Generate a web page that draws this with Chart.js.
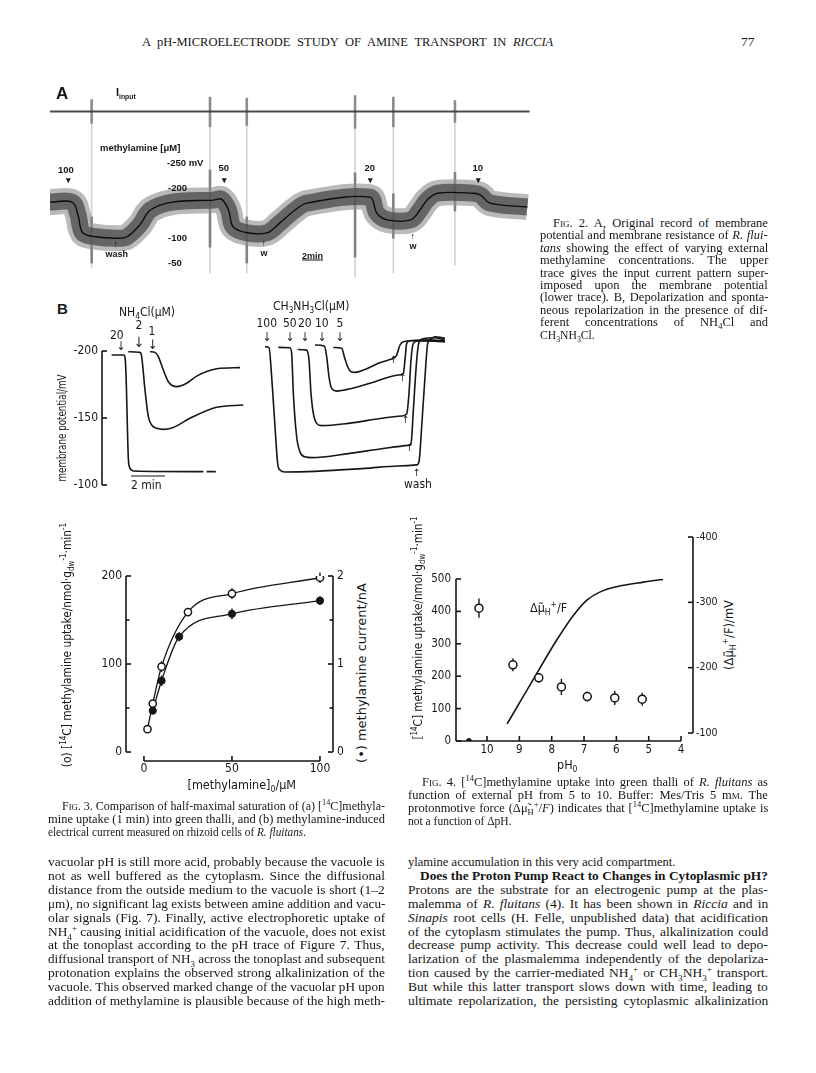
<!DOCTYPE html>
<html>
<head>
<meta charset="utf-8">
<title>A pH-microelectrode study of amine transport in Riccia</title>
<script src="https://cdn.jsdelivr.net/npm/chart.js@4.4.1/dist/chart.umd.min.js"></script>
<style>
    html, body { margin: 0; padding: 0; background: #fff; }
    #page { position: relative; width: 816px; height: 1073px; overflow: hidden; background: #fff; color: #161616;
            font-family: "Liberation Serif", "Times New Roman", serif; }
    .t { position: absolute; white-space: nowrap; line-height: 1; transform-origin: 0 50%; }
    .sans { font-family: "DejaVu Sans Condensed", "Liberation Sans Narrow", "DejaVu Sans", sans-serif; }
    .lab { font-family: "Liberation Sans", Arial, sans-serif; font-weight: bold; }
    .bold { font-weight: bold; }
    .sc { font-variant: small-caps; }
    sub, sup { font-size: 0.68em; line-height: 0; }
    canvas.plot { position: absolute; }
</style>
</head>
<body>
<div id="page">
    <canvas id="figA" class="plot"></canvas>
    <canvas id="figB" class="plot"></canvas>
    <canvas id="fig3" class="plot"></canvas>
    <canvas id="fig4" class="plot"></canvas>
</div>
<script>
// ==========================================
// Data
// ==========================================

// Fig. 2A - original record, time in min, potential in mV
var recTime = [0, 1.9, 2.4, 2.8, 3.9, 5.7, 6.6, 7.7, 8.6, 10.5, 14.0, 14.7, 15.3, 15.7, 16.9, 18.6, 19.7, 21.0, 22.0, 27.4, 28.0, 28.9, 30.9, 31.7, 32.3, 33.2, 36.3, 36.9, 37.7, 40.9];
var recPotential = [-173, -173, -147, -111, -103, -100, -103, -127, -157, -173, -177, -179, -157, -123, -111, -111, -131, -157, -171, -183, -151, -137, -137, -157, -177, -191, -191, -187, -171, -163];
var inputLevel = -356;
var pulseTime = [3.57, 13.71, 16.86, 26.14, 29.42, 34.7];
var pulseTop = [-380, -385, -383, -388, -385, -378];
var pulseLow = [-332, -325, -328, -322, -325, -334];
var pulseEnd = [-40, -30, -30, -22, -30, -45];
var dipTop = [-143, -238, -143, -232, -190, -233];
var dipBottom = [-50, -82, -50, -62, -100, -155];

// Fig. 2B - depolarization traces (min, mV)
var nh4Conc = [20, 2, 1];
var nh4Time = [
    [0.3, 1.05, 1.12, 1.18, 1.25, 1.3, 1.38, 1.6, 5.8, 5.85, 6.0, 6.55],
    [1.3, 2.0, 2.1, 2.3, 2.5, 2.7, 3.0, 3.4, 4.0, 5.0, 6.6, 8.2],
    [2.6, 2.9, 3.1, 3.4, 3.7, 4.2, 4.8, 5.4, 6.6, 8.0]
];
var nh4Potential = [
    [-197, -197, -193, -175, -140, -120, -113, -110.5, -110, null, -110, -110],
    [-199.5, -199, -195.8, -170.9, -151, -144.8, -142.3, -141.5, -143, -149.8, -158, -159.7],
    [-199.5, -199, -195.8, -185.8, -177.1, -173.4, -175.9, -181.3, -186.8, -187.6]
];
var ch3Conc = [100, 50, 20, 10, 5];
var ch3Time = [
    [9.5, 9.74, 9.9, 10.1, 10.26, 10.4, 10.7, 12.5, 15.5, 17.5, 18.6, 18.74, 18.9, 19.1, 19.26, 19.4, 19.7, 20.3],
    [10.3, 11.0, 11.1, 11.2, 11.4, 11.6, 11.9, 12.3, 14.5, 16.5, 18.1, 18.26, 18.4, 18.6, 18.74, 19.0, 19.7, 20.3],
    [11.46, 12.0, 12.14, 12.26, 12.4, 12.6, 12.9, 14.5, 16.5, 17.7, 18.0, 18.14, 18.26, 18.4, 18.7, 19.5, 20.3],
    [12.5, 13.06, 13.2, 13.34, 13.5, 13.8, 14.7, 16.1, 17.5, 17.8, 17.9, 18.0, 18.2, 18.9, 20.3],
    [13.6, 14.1, 14.26, 14.46, 14.66, 14.9, 15.5, 16.3, 16.9, 17.2, 17.4, 17.6, 17.8, 18.3, 20.3]
];
var ch3Potential = [
    [-203.2, -202.7, -180.8, -143.5, -116.2, -111.2, -109.7, -110.2, -112.4, -114.2, -115, -117.4, -143.5, -180.8, -205.7, -208.7, -210.7, -209.5],
    [-202.7, -202.5, -198.3, -168.4, -136, -124.6, -121, -120.4, -123.4, -127.1, -129.6, -130.8, -155.7, -193, -206.7, -209.2, -209.9, -207.9],
    [-201.2, -200.7, -193.3, -168.4, -153.5, -146, -144.3, -146, -149.8, -151.5, -153, -168.4, -193.3, -205.7, -207.7, -208.2, -206.9],
    [-204.5, -203.7, -195.8, -180.8, -172.1, -170.1, -172.1, -177.1, -182.1, -183.3, -193.3, -205.7, -207.7, -208.2, -207.7],
    [-202.7, -202, -195.8, -188.3, -184.6, -184.1, -186.3, -190.8, -193.3, -194.5, -197, -204.5, -207, -207.7, -207]
];
var potTicks = [-200, -150, -100];

// Fig. 3 - saturation
var uptakeConc = [2, 5, 10, 25, 50, 100];
var uptake = [26, 55, 97, 159, 180, 198];
var uptakeErr = [4, 3, 6, 4, 6, 6];
var currentConc = [5, 10, 20, 50, 100];
var current = [0.47, 0.81, 1.31, 1.57, 1.72];
var currentErr = [0.04, 0.06, 0.05, 0.06, 0.05];
var concTicks = [0, 50, 100];
var uptakeTicks = [0, 100, 200];
var uptakeMinor = [50, 150];
var currentTicks = [0, 1, 2];
var currentMinor = [0.5, 1.5];

// Fig. 4 - pH dependence
var phValues = [10.25, 9.2, 8.4, 7.7, 6.9, 6.05, 5.2];
var phUptake = [410, 235, 195, 167, 137, 133, 129];
var phUptakeErr = [30, 20, 15, 25, 15, 22, 20];
var phZero = [10.56];
var phZeroUptake = [0];
var forcePh = [9.38, 8.88, 8.37, 7.85, 7.33, 6.92, 6.5, 5.99, 5.16, 4.56];
var forceMv = [-114, -156, -199, -242, -280, -303, -316, -324, -331, -335];
var phTicks = [10, 9, 8, 7, 6, 5, 4];
var phUptakeTicks = [0, 100, 200, 300, 400, 500];
var forceTicks = [-400, -300, -200, -100];

var INK = '#161616';
var SANS = '"DejaVu Sans Condensed", "Liberation Sans Narrow", "DejaVu Sans", sans-serif';

Chart.defaults.animation = false;
Chart.defaults.devicePixelRatio = 1;

// ==========================================
// Helpers
// ==========================================

var page = document.getElementById('page');

function place(id, left, top, w, h) {
    var c = document.getElementById(id);
    c.width = w; c.height = h;
    c.style.left = left + 'px'; c.style.top = top + 'px';
    c.style.width = w + 'px'; c.style.height = h + 'px';
    return c;
}

function xy(xs, ys) {
    return xs.map(function(x, i) { return { x: x, y: ys[i] }; });
}

/**
 * Put a text line on the page; y is the vertical centre.
 * opt: size, cls, align, rot, just (justify to width), len (scale to length), sx
 */
function put(html, x, y, opt) {
    opt = opt || {};
    var el = document.createElement('div');
    el.className = 't ' + (opt.cls || '');
    el.innerHTML = html;
    el.style.left = x + 'px';
    el.style.top = y + 'px';
    el.style.fontSize = (opt.size || 12) + 'px';
    page.appendChild(el);
    var w = el.offsetWidth;
    var s = opt.sx || 1;
    if (opt.just) {
        if (w > opt.just) {
            s = opt.just / w;
        } else {
            var gaps = (el.textContent.match(/ /g) || []).length;
            if (gaps) el.style.wordSpacing = ((opt.just - w) / gaps) + 'px';
            s = 1;
        }
        w = opt.just;
    } else if (opt.len) {
        s = opt.len / w;
    }
    if (opt.rot) {
        el.style.transformOrigin = '50% 50%';
        el.style.transform = 'translate(-50%,-50%) rotate(' + opt.rot + 'deg) scaleX(' + s + ')';
        return el;
    }
    var vis = opt.just ? w : w * s;
    var dx = opt.align === 'center' ? -vis / 2 : opt.align === 'right' ? -vis : 0;
    el.style.transform = 'translate(' + dx + 'px,-50%) scaleX(' + s + ')';
    return el;
}

function stroke(ctx, x0, y0, x1, y1) {
    ctx.beginPath(); ctx.moveTo(x0, y0); ctx.lineTo(x1, y1); ctx.stroke();
}

// Hand-drawn style axes: line only over the labelled range, ticks pointing inward
var paperAxes = {
    id: 'paperAxes',
    afterDatasetsDraw: function(chart, args, opts) {
        var ctx = chart.ctx, area = chart.chartArea;
        ctx.save();
        ctx.strokeStyle = INK; ctx.fillStyle = INK;
        ctx.lineWidth = 1.6;
        (opts.axes || []).forEach(function(ax) {
            var sc = chart.scales[ax.scale];
            var len = ax.tickLen || 5, gap = ax.gap || 4;
            ctx.font = (ax.size || 12) + 'px ' + SANS;
            if (ax.side === 'bottom') {
                var y = area.bottom;
                stroke(ctx, sc.getPixelForValue(ax.from), y, sc.getPixelForValue(ax.to), y);
                ax.ticks.forEach(function(v) { var px = sc.getPixelForValue(v); stroke(ctx, px, y, px, y - len); });
                (ax.minor || []).forEach(function(v) { var px = sc.getPixelForValue(v); stroke(ctx, px, y, px, y - len * 0.6); });
                ctx.textAlign = 'center'; ctx.textBaseline = 'top';
                ax.ticks.forEach(function(v) { ctx.fillText(String(v), sc.getPixelForValue(v), y + gap); });
            } else {
                var x = ax.side === 'left' ? area.left : area.right;
                var dir = ax.side === 'left' ? 1 : -1;
                stroke(ctx, x, sc.getPixelForValue(ax.from), x, sc.getPixelForValue(ax.to));
                ax.ticks.forEach(function(v) { var py = sc.getPixelForValue(v); stroke(ctx, x, py, x + dir * len, py); });
                (ax.minor || []).forEach(function(v) { var py = sc.getPixelForValue(v); stroke(ctx, x, py, x + dir * len * 0.7, py); });
                ctx.textAlign = ax.side === 'left' ? 'right' : 'left'; ctx.textBaseline = 'middle';
                ax.ticks.forEach(function(v) { ctx.fillText(String(v), x - dir * gap, sc.getPixelForValue(v)); });
            }
        });
        ctx.restore();
    }
};

// Vertical error bars, drawn under the markers
var errorBars = {
    id: 'errorBars',
    beforeDatasetsDraw: function(chart, args, opts) {
        var ctx = chart.ctx;
        ctx.save();
        ctx.strokeStyle = INK; ctx.lineWidth = 1.4;
        (opts.sets || []).forEach(function(s) {
            var ds = chart.data.datasets[s.dataset];
            var xs = chart.scales.x, ys = chart.scales[ds.yAxisID || 'y'];
            ds.data.forEach(function(p, i) {
                var e = s.err[i];
                if (!e) return;
                var px = xs.getPixelForValue(p.x);
                stroke(ctx, px, ys.getPixelForValue(p.y - e), px, ys.getPixelForValue(p.y + e));
            });
        });
        ctx.restore();
    }
};

function baseOptions(xScale, yScales, pad, plugins) {
    var scales = { x: Object.assign({ type: 'linear', display: false, offset: false }, xScale) };
    Object.keys(yScales).forEach(function(k) {
        scales[k] = Object.assign({ type: 'linear', display: false }, yScales[k]);
    });
    return {
        responsive: false,
        animation: false,
        devicePixelRatio: 1,
        layout: { padding: pad },
        scales: scales,
        plugins: Object.assign({ legend: { display: false }, tooltip: { enabled: false } }, plugins || {})
    };
}

// ==========================================
// Fig. 2A  original record
// ==========================================

var canvasA = place('figA', 50, 89, 480, 189);
new Chart(canvasA, {
    type: 'line',
    data: {
        datasets: [
            { data: xy(recTime, recPotential), borderColor: '#0c0c0c', borderWidth: 1.4, pointRadius: 0, tension: 0.35, order: 0 },
            { data: xy(recTime, recPotential), borderColor: 'rgba(78,78,78,0.78)', borderWidth: 17, pointRadius: 0, tension: 0.35, order: 1 },
            { data: xy(recTime, recPotential), borderColor: 'rgba(140,140,140,0.6)', borderWidth: 26, pointRadius: 0, tension: 0.35, order: 2 },
            { type: 'bar', data: pulseTime.map(function(t, i) { return { x: t, y: [dipTop[i], dipBottom[i]] }; }),
              backgroundColor: 'rgba(40,40,40,0.5)', barThickness: 2, grouped: false, order: 3 },
            { type: 'bar', data: pulseTime.map(function(t, i) { return { x: t, y: [pulseTop[i], pulseLow[i]] }; }),
              backgroundColor: 'rgba(60,60,60,0.5)', barThickness: 2, grouped: false, order: 4 },
            { data: xy([0, 41.1], [inputLevel, inputLevel]), borderColor: '#4a4a4a', borderWidth: 1.8, pointRadius: 0, order: 5 },
            { type: 'bar', data: pulseTime.map(function(t, i) { return { x: t, y: [pulseTop[i], pulseEnd[i]] }; }),
              backgroundColor: 'rgba(110,110,110,0.3)', barThickness: 1, grouped: false, order: 6 }
        ]
    },
    options: baseOptions({ min: 0, max: 41.13 }, { y: { min: -401.5, max: -19.7, reverse: true } }, 0)
});

put('A', 56, 93, { cls: 'lab', size: 17 });
put('I<sub style="font-size:0.62em">input</sub>', 116, 92, { cls: 'lab', size: 11 });
put('methylamine [μM]', 100, 148, { cls: 'lab', size: 8.5, len: 80 });
put('-250 mV', 167, 163, { cls: 'lab', size: 9.5 });
put('-200', 168, 188, { cls: 'lab', size: 9.5 });
put('-100', 168, 238, { cls: 'lab', size: 9.5 });
put('-50', 168, 263, { cls: 'lab', size: 9.5 });
put('100', 66, 170, { cls: 'lab', size: 9.5, align: 'center' });
put('50', 224, 168, { cls: 'lab', size: 9.5, align: 'center' });
put('20', 370, 168, { cls: 'lab', size: 9.5, align: 'center' });
put('10', 478, 168, { cls: 'lab', size: 9.5, align: 'center' });
[68, 224, 370, 478].forEach(function(x) { put('&#9662;', x, 180, { cls: 'lab', size: 9, align: 'center' }); });
put('&#8593;', 116, 244, { cls: 'lab', size: 9, align: 'center' });
put('wash', 117, 254, { cls: 'lab', size: 9, align: 'center' });
put('&#8593;', 264, 243, { cls: 'lab', size: 9, align: 'center' });
put('w', 264, 253, { cls: 'lab', size: 9, align: 'center' });
put('&#8593;', 413, 236, { cls: 'lab', size: 9, align: 'center' });
put('w', 413, 246, { cls: 'lab', size: 9, align: 'center' });
put('<u>2min</u>', 302, 256, { cls: 'lab', size: 9 });

// ==========================================
// Fig. 2B  depolarization traces
// ==========================================

var traceSets = [];
nh4Conc.forEach(function(c, i) {
    traceSets.push({ data: xy(nh4Time[i], nh4Potential[i]), borderColor: INK, borderWidth: 1.6, pointRadius: 0,
                     cubicInterpolationMode: 'monotone', spanGaps: false });
});
ch3Conc.forEach(function(c, i) {
    traceSets.push({ data: xy(ch3Time[i], ch3Potential[i]), borderColor: INK, borderWidth: 1.6, pointRadius: 0,
                     cubicInterpolationMode: 'monotone' });
});

var canvasB = place('figB', 50, 320, 400, 170);
new Chart(canvasB, {
    type: 'line',
    data: { datasets: traceSets },
    options: baseOptions({ min: -0.28, max: 20.3 }, { y: { min: -215.7, max: -100, reverse: true } },
        { left: 52, right: 5, top: 10, bottom: 5 },
        { paperAxes: { axes: [{ scale: 'y', side: 'left', from: -200, to: -100, ticks: potTicks, gap: 4, size: 12 }] } }),
    plugins: [paperAxes]
});

put('B', 57, 308, { cls: 'lab', size: 15 });
put('NH<sub>4</sub>Cl(μM)', 147, 312, { cls: 'sans', size: 12, align: 'center' });
put('20', 117, 335, { cls: 'sans', size: 12, align: 'center' });
put('2', 139, 325, { cls: 'sans', size: 12, align: 'center' });
put('1', 152, 331, { cls: 'sans', size: 12, align: 'center' });
put('&#8595;', 121, 346, { cls: 'sans', size: 12, align: 'center' });
put('&#8595;', 139, 342, { cls: 'sans', size: 14, align: 'center' });
put('&#8595;', 153, 344, { cls: 'sans', size: 13, align: 'center' });
put('CH<sub>3</sub>NH<sub>3</sub>Cl(μM)', 311, 306, { cls: 'sans', size: 12, align: 'center' });
[[100, 267], [50, 290], [20, 305], [10, 322], [5, 340]].forEach(function(p) {
    put(String(p[0]), p[1], 323, { cls: 'sans', size: 12, align: 'center' });
    put('&#8595;', p[1], 337, { cls: 'sans', size: 12, align: 'center' });
});
[[394, 360], [403, 378], [406, 420], [410, 448], [417, 473]].forEach(function(p) {
    put('&#8593;', p[0], p[1], { cls: 'sans', size: 10, align: 'center' });
});
put('wash', 418, 484, { cls: 'sans', size: 12, align: 'center' });
put('membrane potential/mV', 62, 428, { cls: 'sans', size: 12, rot: -90, len: 107 });
put('<span style="display:block;border-top:1.6px solid #161616;width:34px;margin-bottom:2px"></span>2 min', 131, 483, { cls: 'sans', size: 12 });

// ==========================================
// Fig. 3  half-maximal saturation
// ==========================================

var canvas3 = place('fig3', 90, 566, 260, 230);
new Chart(canvas3, {
    type: 'line',
    data: {
        datasets: [
            { data: xy(uptakeConc, uptake), yAxisID: 'y', borderColor: INK, borderWidth: 1.3,
              cubicInterpolationMode: 'monotone', pointRadius: 3.6, pointBackgroundColor: '#fff',
              pointBorderColor: INK, pointBorderWidth: 1.5 },
            { data: xy(currentConc, current), yAxisID: 'y2', borderColor: INK, borderWidth: 1.3,
              cubicInterpolationMode: 'monotone', pointRadius: 3.6, pointBackgroundColor: INK,
              pointBorderColor: INK, pointBorderWidth: 1 }
        ]
    },
    options: baseOptions({ min: -10.2, max: 107.4 },
        { y: { min: -10.2, max: 200 }, y2: { min: -0.102, max: 2.0 } },
        { left: 36, right: 17, top: 10, bottom: 35 },
        {
            paperAxes: { axes: [
                { scale: 'y', side: 'left', from: 0, to: 200, ticks: uptakeTicks, minor: uptakeMinor, gap: 4, size: 12 },
                { scale: 'y2', side: 'right', from: 0, to: 2, ticks: currentTicks, minor: currentMinor, gap: 4, size: 12 },
                { scale: 'x', side: 'bottom', from: 0, to: 100, ticks: concTicks, gap: 2, size: 12 }
            ] },
            errorBars: { sets: [{ dataset: 0, err: uptakeErr }, { dataset: 1, err: currentErr }] }
        }),
    plugins: [paperAxes, errorBars]
});

put('(o) [<sup>14</sup>C] methylamine uptake/nmol·g<sub>dw</sub><sup>-1</sup>·min<sup>-1</sup>', 67, 645,
    { cls: 'sans', size: 12.5, rot: -90, len: 244 });
put('(•) methylamine current/nA', 362, 673, { cls: 'sans', size: 12.5, rot: -90, len: 180 });
put('[methylamine]<sub>0</sub>/μM', 242, 785, { cls: 'sans', size: 12.5, align: 'center' });

// ==========================================
// Fig. 4  pH dependence
// ==========================================

var canvas4 = place('fig4', 425, 527, 295, 243);
new Chart(canvas4, {
    type: 'line',
    data: {
        datasets: [
            { data: xy(phValues, phUptake), yAxisID: 'y', showLine: false, pointRadius: 4,
              pointBackgroundColor: '#fff', pointBorderColor: INK, pointBorderWidth: 1.5 },
            { data: xy(phZero, phZeroUptake), yAxisID: 'y', showLine: false, pointRadius: 2.5,
              pointBackgroundColor: INK, pointBorderColor: INK },
            { data: xy(forcePh, forceMv), yAxisID: 'y2', borderColor: INK, borderWidth: 1.6, pointRadius: 0,
              cubicInterpolationMode: 'monotone' }
        ]
    },
    options: baseOptions({ min: 3.63, max: 10.96, reverse: true },
        { y: { min: 0, max: 629.6 }, y2: { min: -400, max: -87.8, reverse: true } },
        { left: 31, right: 27, top: 10, bottom: 29 },
        {
            paperAxes: { axes: [
                { scale: 'y', side: 'left', from: 0, to: 500, ticks: phUptakeTicks, gap: 5, size: 11.5 },
                { scale: 'y2', side: 'right', from: -400, to: -100, ticks: forceTicks, gap: 3, size: 10.5 },
                { scale: 'x', side: 'bottom', from: 10.96, to: 4, ticks: phTicks, gap: 3, size: 11.5 }
            ] },
            errorBars: { sets: [{ dataset: 0, err: phUptakeErr }] }
        }),
    plugins: [paperAxes, errorBars]
});

put('[<sup>14</sup>C] methylamine uptake/nmol·g<sub>dw</sub><sup>-1</sup>·min<sup>-1</sup>', 418, 628,
    { cls: 'sans', size: 12.5, rot: -90, len: 223 });
put('(Δμ̃<sub>H</sub><sup>+</sup>/F)/mV', 729, 635, { cls: 'sans', size: 12, rot: -90, len: 70 });
put('Δμ̃<sub>H</sub><sup>+</sup>/F', 530, 608, { cls: 'sans', size: 12.5 });
put('pH<sub>0</sub>', 567, 765, { cls: 'sans', size: 12.5, align: 'center' });

// ==========================================
// Running text and captions
// ==========================================

put('A pH-MICROELECTRODE STUDY OF AMINE TRANSPORT IN <i>RICCIA</i>', 142, 42, { size: 12.5, just: 411 });
put('77', 741, 42, { size: 13.5 });

var fig2Caption = [
    '<span class="sc">Fig</span>. 2. A, Original record of membrane',
    'potential and membrane resistance of <i>R. flui-</i>',
    '<i>tans</i> showing the effect of varying external',
    'methylamine concentrations. The upper',
    'trace gives the input current pattern super-',
    'imposed upon the membrane potential',
    '(lower trace). B, Depolarization and sponta-',
    'neous repolarization in the presence of dif-',
    'ferent concentrations of NH<sub>4</sub>Cl and',
    'CH<sub>3</sub>NH<sub>3</sub>Cl.'
];
fig2Caption.forEach(function(s, i) {
    var x = i === 0 ? 553 : 540;
    put(s, x, 223 + i * 12.4, { size: 12.5, just: i < 9 ? 768 - x : 0, sx: 0.93 });
});

var fig3Caption = [
    '<span class="sc">Fig</span>. 3. Comparison of half-maximal saturation of (a) [<sup>14</sup>C]methyla-',
    'mine uptake (1 min) into green thalli, and (b) methylamine-induced',
    'electrical current measured on rhizoid cells of <i>R. fluitans</i>.'
];
fig3Caption.forEach(function(s, i) {
    var x = i === 0 ? 62 : 48;
    put(s, x, 806 + i * 13, { size: 12.5, just: i < 2 ? 385 - x : 0, sx: 0.9 });
});

var fig4Caption = [
    '<span class="sc">Fig</span>. 4. [<sup>14</sup>C]methylamine uptake into green thalli of <i>R. fluitans</i> as',
    'function of external pH from 5 to 10. Buffer: Mes/Tris 5 m<span class="sc">m</span>. The',
    'protonmotive force (Δμ̃<sub>H</sub><sup>+</sup>/<i>F</i>) indicates that [<sup>14</sup>C]methylamine uptake is',
    'not a function of ΔpH.'
];
fig4Caption.forEach(function(s, i) {
    var x = i === 0 ? 422 : 408;
    put(s, x, 782 + i * 13, { size: 12.5, just: i < 3 ? 768 - x : 0, sx: 0.92 });
});

var leftColumn = [
    'vacuolar pH is still more acid, probably because the vacuole is',
    'not as well buffered as the cytoplasm. Since the diffusional',
    'distance from the outside medium to the vacuole is short (1–2',
    'μm), no significant lag exists between amine addition and vacu-',
    'olar signals (Fig. 7). Finally, active electrophoretic uptake of',
    'NH<sub>4</sub><sup>+</sup> causing initial acidification of the vacuole, does not exist',
    'at the tonoplast according to the pH trace of Figure 7. Thus,',
    'diffusional transport of NH<sub>3</sub> across the tonoplast and subsequent',
    'protonation explains the observed strong alkalinization of the',
    'vacuole. This observed marked change of the vacuolar pH upon',
    'addition of methylamine is plausible because of the high meth-'
];
leftColumn.forEach(function(s, i) {
    put(s, 48, 862 + i * 13.9, { size: 13.5, just: 337 });
});

var rightColumn = [
    'ylamine accumulation in this very acid compartment.',
    '<b>Does the Proton Pump React to Changes in Cytoplasmic pH?</b>',
    'Protons are the substrate for an electrogenic pump at the plas-',
    'malemma of <i>R. fluitans</i> (4). It has been shown in <i>Riccia</i> and in',
    '<i>Sinapis</i> root cells (H. Felle, unpublished data) that acidification',
    'of the cytoplasm stimulates the pump. Thus, alkalinization could',
    'decrease pump activity. This decrease could well lead to depo-',
    'larization of the plasmalemma independently of the depolariza-',
    'tion caused by the carrier-mediated NH<sub>4</sub><sup>+</sup> or CH<sub>3</sub>NH<sub>3</sub><sup>+</sup> transport.',
    'But while this latter transport slows down with time, leading to',
    'ultimate repolarization, the persisting cytoplasmic alkalinization'
];
rightColumn.forEach(function(s, i) {
    var x = i === 1 ? 420 : 408;
    put(s, x, 862 + i * 13.9, { size: 13.5, just: i === 0 ? 0 : 768 - x, sx: 0.93 });
});
</script>
</body>
</html>
